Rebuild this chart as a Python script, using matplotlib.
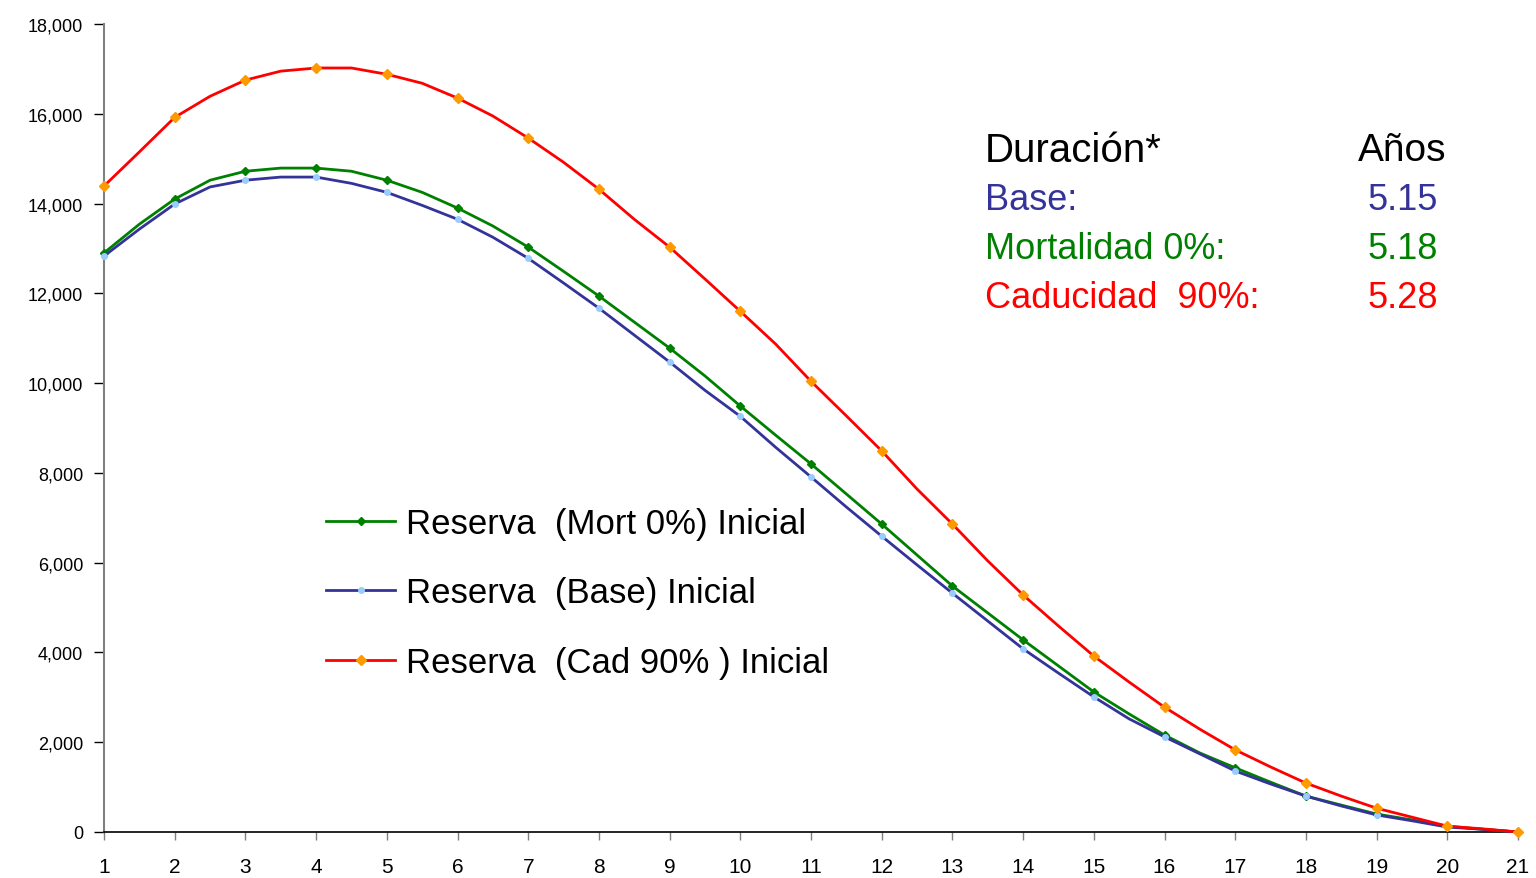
import matplotlib.pyplot as plt
import numpy as np
from matplotlib.ticker import FuncFormatter

# years at half steps, markers only on whole years
anos = np.arange(1, 21.5, 0.5)

reserva_mort = [12900, 13540, 14100, 14520, 14720, 14790, 14790, 14720, 14520, 14250,
                13900, 13500, 13030, 12490, 11940, 11360, 10780, 10160, 9490, 8840,
                8200, 7530, 6860, 6170, 5480, 4880, 4280, 3700, 3120, 2630,
                2160, 1760, 1430, 1110, 800, 600, 400, 270, 130, 60, 0]
reserva_base = [12830, 13430, 13990, 14370, 14520, 14590, 14590, 14450, 14250, 13960,
                13650, 13250, 12780, 12230, 11670, 11070, 10470, 9840, 9260, 8570,
                7910, 7240, 6590, 5950, 5320, 4700, 4080, 3540, 3010, 2520,
                2120, 1740, 1360, 1070, 800, 580, 380, 250, 110, 60, 0]
reserva_cad = [14390, 15150, 15920, 16390, 16750, 16950, 17020, 17020, 16880, 16680,
               16350, 15950, 15460, 14920, 14320, 13650, 13030, 12320, 11600, 10870,
               10040, 9270, 8490, 7640, 6860, 6040, 5280, 4590, 3920, 3340,
               2780, 2290, 1830, 1450, 1090, 800, 530, 330, 130, 70, 0]

etiquetas = ['Reserva  (Mort 0%) Inicial', 'Reserva  (Base) Inicial', 'Reserva  (Cad 90% ) Inicial']
duracion_nombres = ['Base:', 'Mortalidad 0%:', 'Caducidad  90%:']
duracion_anos = ['5.15', '5.18', '5.28']
duracion_colores = ['#333399', '#008000', '#FF0000']

plt.rcParams['font.family'] = ['Liberation Sans', 'DejaVu Sans']

W, H = 1536, 879
fig = plt.figure(figsize=(W / 100, H / 100), dpi=100)
ax = fig.add_axes([104 / W, 1 - 833 / H, (1518 - 104) / W, (833 - 25) / H])

ax.plot(anos, reserva_mort, color='#008000', lw=2, marker='D', markersize=4,
        markerfacecolor='#008000', markeredgecolor='#008000', markevery=2,
        clip_on=False, label=etiquetas[0], zorder=3)
ax.plot(anos, reserva_base, color='#333399', lw=2, marker='o', markersize=4,
        markerfacecolor='#99CCFF', markeredgecolor='#99CCFF', markevery=2,
        clip_on=False, label=etiquetas[1], zorder=3)
ax.plot(anos, reserva_cad, color='#FF0000', lw=2, marker='D', markersize=5,
        markerfacecolor='#FF9900', markeredgecolor='#FF9900', markevery=2,
        clip_on=False, label=etiquetas[2], zorder=4)

ax.set_xlim(1, 21)
ax.set_ylim(0, 18000)
ax.set_xticks(range(1, 22))
ax.set_yticks(range(0, 18001, 2000))
ax.yaxis.set_major_formatter(FuncFormatter(lambda v, p: f'{int(v):,}'))

for s in ['top', 'right']:
    ax.spines[s].set_visible(False)
ax.spines['left'].set_color('#808080')
ax.spines['left'].set_linewidth(1.5)
ax.spines['bottom'].set_color('black')
ax.spines['bottom'].set_linewidth(1.2)
ax.tick_params(axis='y', length=7, width=1, color='black', pad=8, labelsize=13)
ax.tick_params(axis='x', length=6, width=1, color='#808080', pad=12, labelsize=15)
for lab in ax.get_xticklabels():
    lab.set_family(['Liberation Sans Narrow', 'Liberation Sans'])

leg = ax.legend(loc='upper left', bbox_to_anchor=(326 / W, 1 - 508 / H),
                bbox_transform=fig.transFigure, frameon=False, fontsize=25,
                handlelength=2.0, handletextpad=0.3, labelspacing=1.05,
                borderpad=0, borderaxespad=0)

fig.text(985 / W, 1 - 151 / H, 'Duración*', fontsize=29, color='black', va='center', ha='left')
fig.text(1446 / W, 1 - 151 / H, 'Años', fontsize=28, color='black', va='center', ha='right')
fila_y = [201, 250, 299]
for nombre, valor, color, y in zip(duracion_nombres, duracion_anos, duracion_colores, fila_y):
    fig.text(985 / W, 1 - y / H, nombre, fontsize=26, color=color, va='center', ha='left')
    fig.text(1438 / W, 1 - y / H, valor, fontsize=26, color=color, va='center', ha='right')

fig.savefig('out.png', dpi=100)
